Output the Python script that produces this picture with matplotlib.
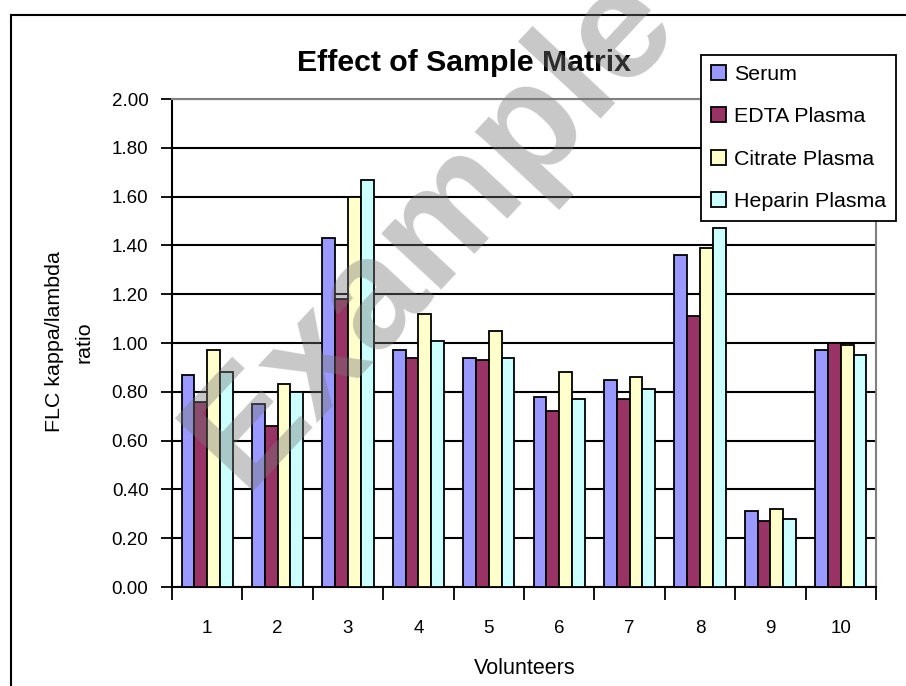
import numpy as np
import matplotlib
matplotlib.use('Agg')
import matplotlib.pyplot as plt
from matplotlib.patches import Rectangle
from matplotlib.ticker import FixedLocator, FormatStrFormatter

plt.rcParams['font.family'] = ['Liberation Sans', 'DejaVu Sans']

volunteers = ['1', '2', '3', '4', '5', '6', '7', '8', '9', '10']
serum   = [0.87, 0.75, 1.43, 0.97, 0.94, 0.78, 0.85, 1.36, 0.31, 0.97]
edta    = [0.76, 0.66, 1.18, 0.94, 0.93, 0.72, 0.77, 1.11, 0.27, 1.00]
citrate = [0.97, 0.83, 1.60, 1.12, 1.05, 0.88, 0.86, 1.39, 0.32, 0.99]
heparin = [0.88, 0.80, 1.67, 1.01, 0.94, 0.77, 0.81, 1.47, 0.28, 0.95]
series_names = ['Serum', 'EDTA Plasma', 'Citrate Plasma', 'Heparin Plasma']
colors = ['#9999FF', '#993366', '#FFFFCC', '#CCFFFF']

W, H = 906, 686
fig = plt.figure(figsize=(W/100, H/100), dpi=100)
ax = fig.add_axes([172/W, (H-587)/H, 704/W, 488/H])

# outer chart frame
fig.add_artist(Rectangle((11/W, -0.1), 1.2, (H-15)/H + 0.1, transform=fig.transFigure,
                         fill=False, edgecolor='black', linewidth=1.5))

x = np.arange(len(volunteers))
w = 1/5.5
for i, (vals, name, c) in enumerate(zip([serum, edta, citrate, heparin], series_names, colors)):
    ax.bar(x + (i - 1.5)*w, vals, width=w, color=c, edgecolor='black', linewidth=1.3,
           label=name, zorder=3)

ax.set_xlim(-0.5, len(volunteers) - 0.5)
ax.set_ylim(0, 2.0)
ax.set_yticks(np.arange(0, 2.01, 0.2))
ax.yaxis.set_major_formatter(FormatStrFormatter('%.2f'))
ax.set_xticks(x)
ax.set_xticklabels(volunteers)
ax.xaxis.set_minor_locator(FixedLocator(np.arange(-0.5, len(volunteers), 1.0)))
ax.tick_params(axis='x', which='major', length=0, pad=24, labelsize=13.5)
ax.tick_params(axis='x', which='minor', length=9, width=1.3, direction='out')
ax.tick_params(axis='y', length=8, width=1.3, labelsize=13.5, pad=9)

ax.yaxis.grid(True, color='black', linewidth=1.5, zorder=0)
ax.set_axisbelow(True)
for s in ['left', 'bottom']:
    ax.spines[s].set_linewidth(1.5)
    ax.spines[s].set_color('black')
for s in ['top', 'right']:
    ax.spines[s].set_linewidth(1.5)
    ax.spines[s].set_color('#808080')

fig.text(525/W, 1 - 669/H, 'Volunteers', fontsize=15.5, ha='center', va='center')
fig.text(69/W, 1 - 342/H, 'FLC kappa/lambda\nratio', fontsize=15.4, rotation=90,
         ha='center', va='center', multialignment='center', linespacing=1.7)
fig.text(464/W, 1 - 63/H, 'Effect of Sample Matrix', fontsize=21.8, fontweight='bold',
         ha='center', va='center')

leg = ax.legend(loc='upper left', bbox_to_anchor=(701/W, 1 - 55/H), bbox_transform=fig.transFigure,
                fontsize=15.4, frameon=True, fancybox=False, edgecolor='black', framealpha=1,
                handlelength=0.7, handleheight=0.7, handletextpad=0.4, labelspacing=1.1,
                borderpad=0.45, borderaxespad=0)
leg.get_frame().set_linewidth(1.3)
leg.set_zorder(10)

fig.text(432/W, 1 - 230/H, 'Example', fontsize=112, fontweight='bold', color='#767676',
         alpha=0.4, rotation=47, ha='center', va='center', zorder=20)

fig.savefig('out.png', dpi=100)
